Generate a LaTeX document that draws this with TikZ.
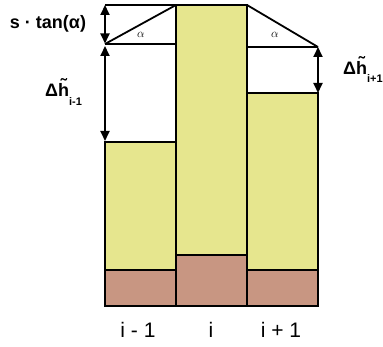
\documentclass[tikz,border=0pt]{standalone}
\usepackage{fontspec}
\setmainfont{Liberation Sans}
\usetikzlibrary{arrows.meta}
\definecolor{ylw}{RGB}{230,230,142}
\definecolor{brn}{RGB}{200,150,130}
\newcommand{\tilh}{\ooalign{h\cr\hidewidth\raisebox{5pt}{\char"02DC}\hidewidth\cr}}
\tikzset{
  edge/.style={line width=1.8pt, line join=miter},
  dim/.style={line width=1.8pt, {Triangle[length=10pt,width=9pt]}-{Triangle[length=10pt,width=9pt]}},
  biglab/.style={font=\bfseries\fontsize{18}{20}\selectfont, inner sep=0pt, anchor=base west},
  collab/.style={font=\fontsize{21}{24}\selectfont, inner sep=0pt},
  alab/.style={font=\fontsize{12}{13}\selectfont, inner sep=0pt}
}
\begin{document}
\begin{tikzpicture}[x=1pt,y=-1pt]
\useasboundingbox (0,0) rectangle (383,347);
% coordinates
\coordinate (L1) at (105,5);
\coordinate (L2) at (105,44);
\coordinate (L3) at (105,142);
\coordinate (R1) at (318,47);
\coordinate (R2) at (318,93);
% fills
\fill[ylw] (105,142) rectangle (176,270);
\fill[brn] (105,270) rectangle (176,306);
\fill[ylw] (176,5) rectangle (247,255);
\fill[brn] (176,255) rectangle (247,306);
\fill[ylw] (247,93) rectangle (318,270);
\fill[brn] (247,270) rectangle (318,306);
% outlines
\draw[edge] (105,142) rectangle (176,306);
\draw[edge] (176,5) rectangle (247,306);
\draw[edge] (247,93) rectangle (318,306);
\draw[edge] (105,270) -- (176,270);
\draw[edge] (176,255) -- (247,255);
\draw[edge] (247,270) -- (318,270);
% triangles
\draw[edge] (L1) -- (176,5);
\draw[edge] (L2) -- (176,44);
\draw[edge] (L2) -- (176,5);
\draw[edge] (247,5) -- (R1);
\draw[edge] (247,47) -- (R1);
% dimension arrows
\draw[dim, shorten >=0.5pt] (L1) -- (L2);
\draw[dim, shorten <=2pt, shorten >=1pt] (L2) -- (L3);
\draw[dim] (R1) -- (R2);
% labels
\node[inner sep=0pt, font=\bfseries\fontsize{18}{20}\selectfont] (st) at (48,24) {s · tan(α)};
\node[biglab] (dl) at (45,97) {Δ\tilh\raisebox{-9pt}{\fontsize{11}{12}\selectfont i-1}};
\node[biglab] (dr) at (343,75) {Δ\tilh\raisebox{-8pt}{\fontsize{11}{12}\selectfont i+1}};
\node[alab] (a1) at (141,35) {$\alpha$};
\node[alab] (a2) at (275,35) {$\alpha$};
\node[collab] (c1) at (138,330) {i - 1};
\node[collab] (c2) at (211,330) {i};
\node[collab] (c3) at (281,330) {i + 1};
\end{tikzpicture}
\end{document}
